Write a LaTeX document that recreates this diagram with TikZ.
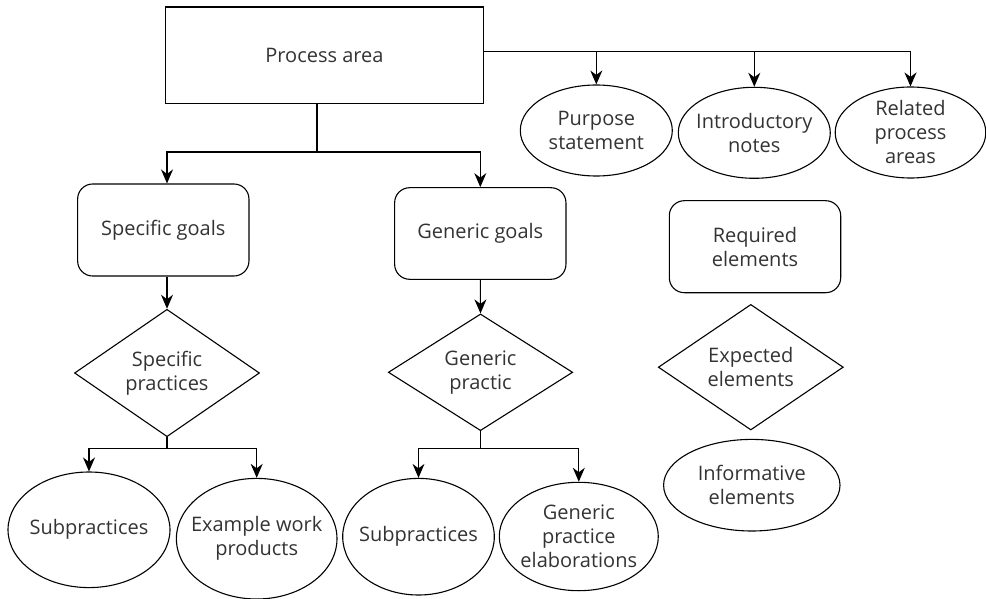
\documentclass[tikz,border=0pt]{standalone}
\usepackage{fontspec}
\setmainfont{Open Sans}
\usetikzlibrary{shapes.geometric,arrows.meta}
\begin{document}
\begin{tikzpicture}[x=1pt,y=-1pt,
  every node/.style={font=\fontsize{20}{24}\selectfont, text=black!80, align=center, line width=1.1pt, inner sep=0pt},
  sqbox/.style={draw, rectangle},
  rbox/.style={draw, rectangle, rounded corners=15pt},
  ell/.style={draw, ellipse, inner xsep=-30pt, inner ysep=-30pt},
  dia/.style={draw, diamond},
  arr/.style={line width=1.1pt, -{Stealth[length=14pt,width=12pt,inset=4.5pt]}},
  ln/.style={line width=1.1pt}]
\useasboundingbox (0,0) rectangle (986,599);

\node[sqbox, minimum width=318pt, minimum height=96.5pt] (pa) at (324.5,55.3) {Process area};

\node[ell, minimum width=152pt, minimum height=91pt] (ps) at (596.3,130.5) {Purpose\\statement};
\node[ell, minimum width=152pt, minimum height=91pt] (in) at (754.3,132.8) {Introductory\\notes};
\node[ell, minimum width=150.6pt, minimum height=91pt] (ra) at (910.5,132.5) {Related\\process\\areas};

\node[rbox, minimum width=171.3pt, minimum height=92pt] (sg) at (163.3,230) {Specific goals};
\node[rbox, minimum width=171.3pt, minimum height=91.6pt] (gg) at (480.3,233.5) {Generic goals};
\node[rbox, minimum width=171.4pt, minimum height=92pt] (re) at (755,246.7) {Required\\elements};

\node[dia, minimum width=185pt, minimum height=127.4pt] (sp) at (167,373) {Specific\\practices};
\node[dia, minimum width=184.4pt, minimum height=116.7pt] (gp) at (480.5,372.3) {Generic\\practic};
\node[dia, minimum width=185pt, minimum height=112.3pt] (ee) at (750.8,367.2) {Expected\\elements};

\node[ell, minimum width=176.4pt, minimum height=91.6pt] (ie) at (751.8,485.2) {Informative\\elements};

\node[ell, minimum width=162pt, minimum height=115.6pt] (s1) at (89,529.8) {Subpractices};
\node[ell, minimum width=160.6pt, minimum height=120.6pt] (ew) at (256.7,538.7) {Example work\\products};
\node[ell, minimum width=151.6pt, minimum height=116.6pt] (s2) at (418.5,536.7) {Subpractices};
\node[ell, minimum width=159pt, minimum height=108.4pt] (ge) at (578.8,536.5) {Generic\\practice\\elaborations};

% top branch
\coordinate (j1) at (317,152);
\draw[ln] (j1 |- pa.south) -- (j1);
\draw[arr] (j1) -| (sp.north |- sg.north);
\draw[arr] (j1) -| (gg.north);

% right branch
\coordinate (r0) at ([yshift=3.6pt]pa.east);
\draw[arr] (r0) -| (ra.north);
\draw[arr] (ps.north |- r0) -- (ps.north);
\draw[arr] (in.north |- r0) -- (in.north);

% goals to practices
\draw[arr] (sp.north |- sg.south) -- (sp.north);
\draw[arr] (gg.south) -- (gp.north);

% practices to leaves
\coordinate (j2) at (167,448.3);
\draw[ln] (sp.south) -- (j2);
\draw[arr] (j2) -| (s1.north);
\draw[arr] (j2) -| (ew.north);

\coordinate (j3) at (480.5,448.3);
\draw[ln] (gp.south) -- (j3);
\draw[arr] (j3) -| (s2.north);
\draw[arr] (j3) -| (ge.north);
\end{tikzpicture}
\end{document}
